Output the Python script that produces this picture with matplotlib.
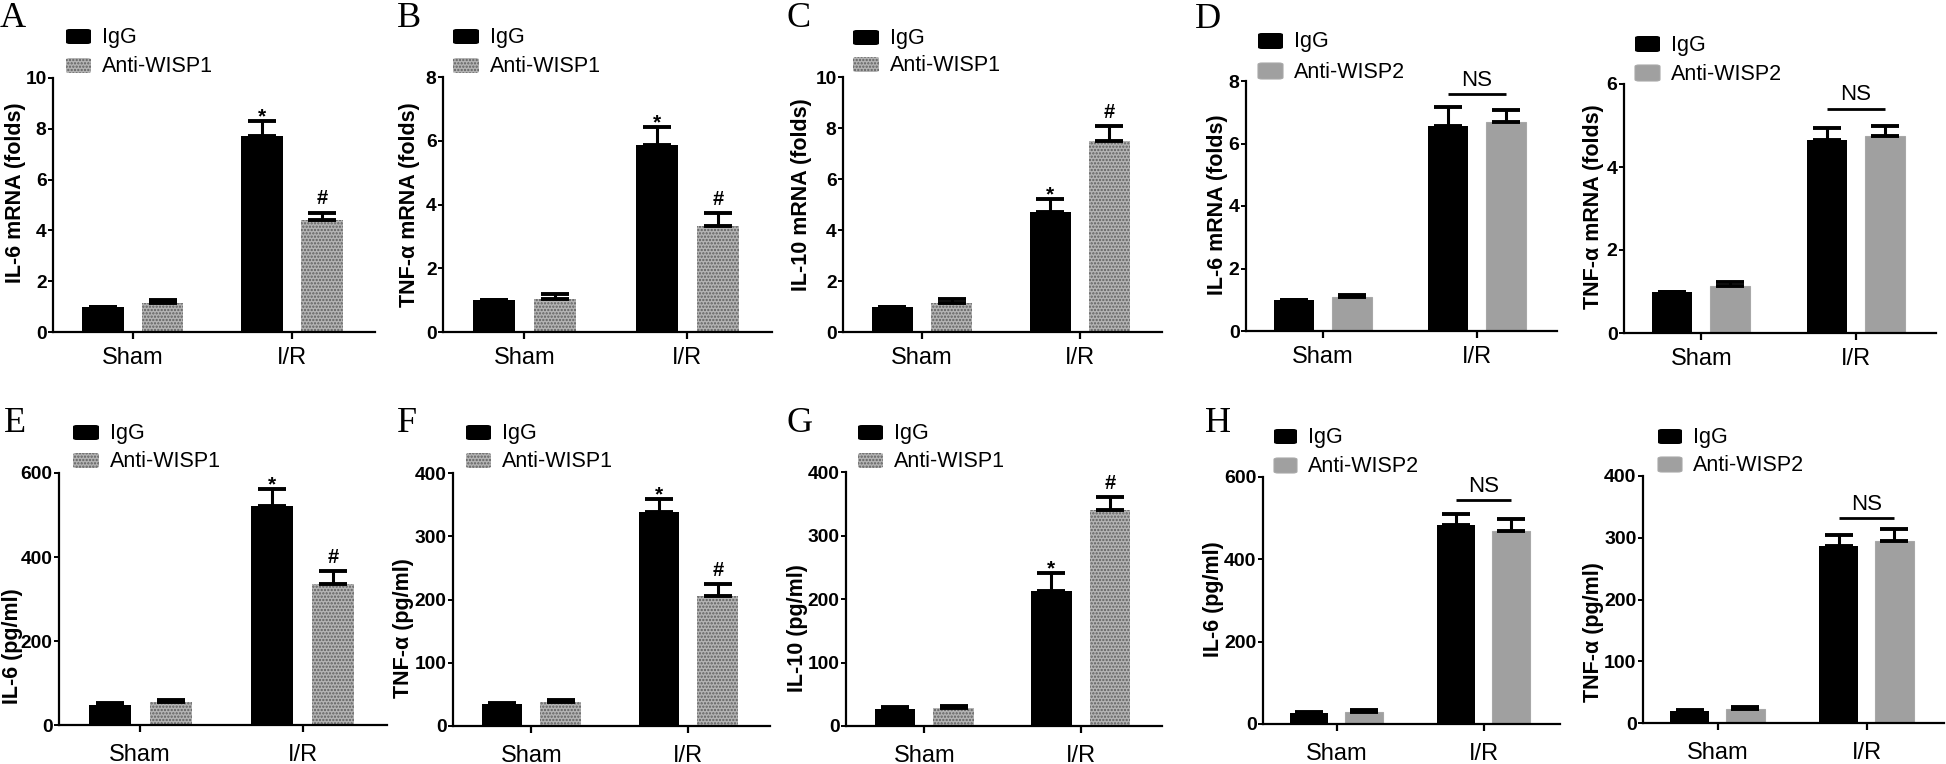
import matplotlib
matplotlib.use('Agg')
import matplotlib.pyplot as plt
from matplotlib import font_manager
from matplotlib.patches import FancyBboxPatch
import numpy as np

W, H = 1946, 764

# ---------------- data ----------------
categories = ['Sham', 'I/R']
groups_1 = ['IgG', 'Anti-WISP1']
groups_2 = ['IgG', 'Anti-WISP2']

A_igg = [1.0, 7.7];   A_igg_err = [0.0, 0.6]
A_anti = [1.15, 4.4]; A_anti_err = [0.12, 0.3]
B_igg = [1.0, 5.88];  B_igg_err = [0.0, 0.55]
B_anti = [1.03, 3.32]; B_anti_err = [0.15, 0.4]
C_igg = [1.0, 4.7];   C_igg_err = [0.0, 0.53]
C_anti = [1.13, 7.5]; C_anti_err = [0.17, 0.57]
D1_igg = [1.0, 6.56]; D1_igg_err = [0.0, 0.6]
D1_anti = [1.08, 6.7]; D1_anti_err = [0.06, 0.36]
D2_igg = [1.0, 4.65]; D2_igg_err = [0.0, 0.28]
D2_anti = [1.14, 4.75]; D2_anti_err = [0.09, 0.24]
E_igg = [47, 522];   E_igg_err = [5, 41]
E_anti = [54, 335];  E_anti_err = [5, 32]
F_igg = [34, 338];   F_igg_err = [3, 21]
F_anti = [38, 205];  F_anti_err = [3, 19]
G_igg = [27, 212];   G_igg_err = [3, 29]
G_anti = [29, 340];  G_anti_err = [2, 20]
H1_igg = [26, 483];  H1_igg_err = [4, 28]
H1_anti = [28, 470]; H1_anti_err = [5, 28]
H2_igg = [20, 286];  H2_igg_err = [1, 18]
H2_anti = [23, 295]; H2_anti_err = [3, 19]

# ---------------- fonts ----------------
names = {f.name for f in font_manager.fontManager.ttflist}
NARROW = 'Liberation Sans Narrow' if 'Liberation Sans Narrow' in names else 'Liberation Sans'
SANS = 'Liberation Sans'
SERIF = 'Liberation Serif'
plt.rcParams['font.family'] = [SANS, 'DejaVu Sans']
plt.rcParams['hatch.linewidth'] = 1.1

fig = plt.figure(figsize=(W / 100, H / 100), dpi=100)

STIPPLE = dict(facecolor='#b4b4b4', edgecolor='#5e5e5e', hatch='.....', linewidth=0)
FLAT = dict(facecolor='#a0a0a0', edgecolor='#a8a8a8', linewidth=0.8)


def px_rect(l, r, t, b):
    return [l / W, 1 - b / H, (r - l) / W, (b - t) / H]


def fx(x):
    return x / W


def fy(y):
    return 1 - y / H


def panel(rect, igg, igg_err, anti, anti_err, ymax, ystep, ylabel, style,
          labels, ylab_c, leg, marks=True, ns_y=None, narrow_ticks=False, xpad=6):
    ax = fig.add_axes(px_rect(*rect))
    x = np.arange(len(categories))
    off, wid = 0.1875, 0.26
    ax.bar(x - off, igg, wid, color='black', zorder=2)
    ax.bar(x + off, anti, wid, zorder=2, **style)
    eb = dict(fmt='none', ecolor='black', elinewidth=2.2, capsize=10, capthick=2.8, zorder=3)
    ax.errorbar(x - off, igg, yerr=[np.zeros(len(x)), igg_err], **eb)
    ax.errorbar(x + off, anti, yerr=[np.zeros(len(x)), anti_err], **eb)
    ax.set_xlim(-0.5, 1.52)
    ax.set_ylim(0, ymax)
    yt = np.arange(0, ymax + ystep / 2, ystep)
    ax.set_yticks(yt)
    tick_family = NARROW if narrow_ticks else SANS
    ax.set_yticklabels([f'{v:g}' for v in yt], fontsize=14 if narrow_ticks else 13.8,
                       fontweight='bold', family=tick_family)
    ax.set_xticks(x)
    ax.set_xticklabels(categories, fontsize=17, family=NARROW)
    for s in ['top', 'right']:
        ax.spines[s].set_visible(False)
    for s in ['left', 'bottom']:
        ax.spines[s].set_linewidth(1.6)
    ax.tick_params(axis='y', length=3.6, width=1.4, pad=1)
    ax.tick_params(axis='x', length=5, width=1.6, pad=xpad)
    ax.set_ylabel(ylabel, fontsize=15.5, fontweight='bold', ha='center', va='center')
    ax.yaxis.set_label_coords(fx(ylab_c[0]), fy(ylab_c[1]), transform=fig.transFigure)
    if marks:
        ax.annotate('*', xy=(x[1] - off, igg[1] + igg_err[1]), xytext=(0, -1),
                    textcoords='offset points', ha='center', va='baseline',
                    fontsize=15, fontweight='bold')
        ax.annotate('#', xy=(x[1] + off, anti[1] + anti_err[1]), xytext=(0, 6),
                    textcoords='offset points', ha='center', va='baseline',
                    fontsize=14.5, fontweight='bold')
    if ns_y is not None:
        ax.plot([x[1] - off, x[1] + off], [ns_y, ns_y], color='black', lw=2.0,
                solid_capstyle='butt', clip_on=False)
        ax.annotate('NS', xy=(x[1], ns_y), xytext=(0, 2.5), textcoords='offset points',
                    ha='center', va='bottom', fontsize=16, family=NARROW)
    # legend
    lx, ly1, ly2, pw, ph = leg
    for yy, lab, st in [(ly1, labels[0], dict(facecolor='black', edgecolor='black', linewidth=0)),
                        (ly2, labels[1], style)]:
        p = FancyBboxPatch((fx(lx), fy(yy + ph)), pw / W, ph / H,
                           boxstyle='round,pad=0,rounding_size=0.002',
                           transform=fig.transFigure, **st)
        fig.add_artist(p)
        fig.text(fx(lx + pw + 11), fy(yy + ph / 2 + 1), lab, fontsize=15.5, family=NARROW,
                 ha='left', va='center')
    return ax


panel((53, 375, 78, 332), A_igg, A_igg_err, A_anti, A_anti_err, 10, 2,
      'IL-6 mRNA (folds)', STIPPLE, groups_1, (15.5, 193), (66, 29, 58, 25, 15))
panel((443, 772, 77, 332), B_igg, B_igg_err, B_anti, B_anti_err, 8, 2,
      'TNF-α mRNA (folds)', STIPPLE, groups_1, (409.5, 205), (453, 29, 58, 26, 15))
panel((843, 1162, 77, 332), C_igg, C_igg_err, C_anti, C_anti_err, 10, 2,
      'IL-10 mRNA (folds)', STIPPLE, groups_1, (802, 195), (853, 30, 57, 26, 15))
panel((1246, 1557, 81, 331), D1_igg, D1_igg_err, D1_anti, D1_anti_err, 8, 2,
      'IL-6 mRNA (folds)', FLAT, groups_2, (1217, 205), (1258, 33, 63, 25, 16),
      marks=False, ns_y=7.58, narrow_ticks=True)
panel((1624, 1936, 84, 333), D2_igg, D2_igg_err, D2_anti, D2_anti_err, 6, 2,
      'TNF-α mRNA (folds)', FLAT, groups_2, (1594, 207), (1635, 36, 65, 25, 16),
      marks=False, ns_y=5.40, narrow_ticks=True)
panel((59, 387, 473, 725), E_igg, E_igg_err, E_anti, E_anti_err, 600, 200,
      'IL-6 (pg/ml)', STIPPLE, groups_1, (13, 646), (73, 425, 453, 26, 15), xpad=9)
panel((453, 770, 473, 726), F_igg, F_igg_err, F_anti, F_anti_err, 400, 100,
      'TNF-α (pg/ml)', STIPPLE, groups_1, (404, 628), (466, 425, 453, 25, 15), xpad=9)
panel((846, 1162, 472, 726), G_igg, G_igg_err, G_anti, G_anti_err, 400, 100,
      'IL-10 (pg/ml)', STIPPLE, groups_1, (798, 628), (858, 425, 453, 25, 15), xpad=9)
panel((1263, 1560, 477, 724), H1_igg, H1_igg_err, H1_anti, H1_anti_err, 600, 200,
      'IL-6 (pg/ml)', FLAT, groups_2, (1213, 599), (1274, 429, 458, 23, 15),
      marks=False, ns_y=544, narrow_ticks=True, xpad=9)
panel((1643, 1944, 476, 723), H2_igg, H2_igg_err, H2_anti, H2_anti_err, 400, 100,
      'TNF-α (pg/ml)', FLAT, groups_2, (1593, 632), (1658, 429, 457, 24, 15),
      marks=False, ns_y=332, narrow_ticks=True, xpad=9)

for lab, x0, base in [('A', 0, 27), ('B', 397, 27), ('C', 787, 27), ('D', 1195, 28),
                      ('E', 4, 432), ('F', 397, 432), ('G', 787, 432), ('H', 1205, 432)]:
    fig.text(fx(x0), fy(base), lab, family=SERIF, fontsize=26, ha='left', va='baseline')

fig.savefig('out.png', dpi=100)
